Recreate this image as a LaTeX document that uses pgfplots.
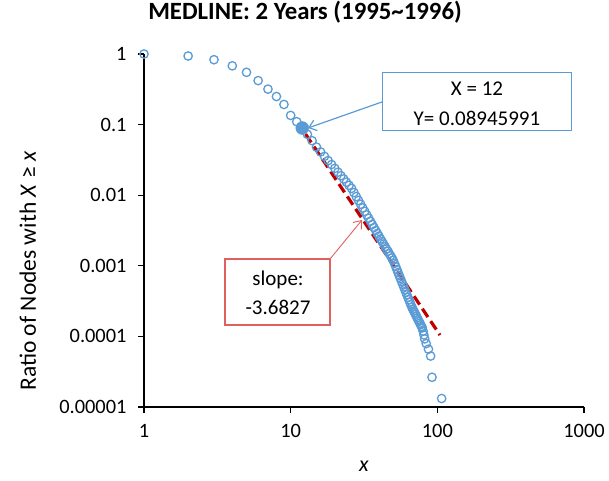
\documentclass[border=0pt]{standalone}
\usepackage{pgfplots}
\pgfplotsset{compat=1.18}
\usepackage{fontspec}
\setmainfont{Carlito}
\usetikzlibrary{arrows.meta}
\definecolor{ptblue}{HTML}{5B9BD5}
\definecolor{trendred}{HTML}{C00000}
\definecolor{boxred}{HTML}{E06060}

\begin{document}
\begin{tikzpicture}[x=1pt,y=1pt]
\path[use as bounding box] (0,0) rectangle (609,480);
\begin{axis}[
    at={(144pt,73pt)}, anchor=south west,
    width=440pt, height=353pt, scale only axis,
    xmode=log, ymode=log,
    xmin=1, xmax=1000, ymin=1e-5, ymax=1,
    axis x line*=bottom, axis y line*=left,
    axis line style={black, line width=1.3pt},
    tick align=outside,
    major tick length=6pt,
    tick style={black, line width=1.2pt},
    xminorticks=false, yminorticks=false,
    xtick={1,10,100,1000}, xticklabels={1,10,100,1000},
    ytick={1,0.1,0.01,0.001,0.0001,0.00001},
    yticklabels={1,0.1,0.01,0.001,0.0001,0.00001},
    ticklabel style={font=\fontsize{20.4}{24}\selectfont},
    yticklabel style={xshift=-8pt},
    xticklabel style={yshift=-8pt},
    xlabel={\textit{x}},
    xlabel style={at={(axis description cs:0.5,-0.167)}, anchor=center, font=\fontsize{22}{24}\selectfont},
    ylabel={Ratio of Nodes with \textit{X} ≥ \textit{x}},
    ylabel style={at={(axis description cs:-0.264,0.385)}, anchor=center, font=\fontsize{23.5}{26}\selectfont},
    title={MEDLINE: 2 Years (1995\textasciitilde 1996)},
    title style={at={(axis description cs:0.366,1.102)}, anchor=center, font=\fontsize{24.8}{28}\selectfont\bfseries},
    clip=false,
]
% complementary cumulative ratio
\addplot[only marks, mark=o, mark size=4.2pt, mark options={ptblue, line width=1.3pt}] coordinates {
(1,1) (2,0.937) (3,0.83) (4,0.68) (5,0.55) (6,0.42) (7,0.318) (8,0.25) (9,0.193) (10,0.135)
(11,0.11) (12,0.0895) (13,0.0729) (14,0.0592) (15,0.0480) (16,0.0410) (17,0.0355) (18,0.0309)
(19,0.0272) (20,0.0240) (21,0.0212) (22,0.0189) (23,0.0170) (24,0.0153) (25,0.0138) (26,0.0125)
(27,0.0109) (28,0.00955) (29,0.00841) (30,0.00745) (31,0.00661) (32,0.00590) (33,0.00527)
(34,0.00473) (35,0.00427) (36,0.00385) (37,0.00348) (38,0.00316) (39,0.00288) (40,0.00263)
(41,0.00240) (42,0.00221) (43,0.00203) (44,0.00187) (45,0.00173) (46,0.00161) (47,0.00149)
(48,0.00139) (49,0.00129) (50,0.00120) (51,0.00108) (52,0.000977) (53,0.000885) (54,0.000802)
(55,0.000728) (56,0.000662) (57,0.000603) (58,0.000550) (59,0.000502) (60,0.000460) (61,0.000423)
(62,0.000388) (63,0.000357) (64,0.000330) (65,0.000304) (66,0.000281) (67,0.000260) (68,0.000244)
(69,0.000230) (70,0.000217) (71,0.000205) (72,0.000193) (73,0.000182) (74,0.000172) (75,0.000163)
(76,0.000154) (77,0.000146) (78,0.000138) (79,0.000132) (80,0.000119) (81,0.000105) (82,0.0000922)
(84,0.0000791) (87,0.0000659) (90,0.0000527) (92,0.0000264) (107,0.0000132)
};
% highlighted point
\addplot[only marks, mark=*, mark size=6.5pt, ptblue] coordinates {(12,0.08945991)};
% power-law trend line
\addplot[trendred, line width=3.2pt, dash pattern=on 10pt off 5pt] coordinates {(12.65,0.0733) (104.2,0.0001046)};
\end{axis}

% callout for the highlighted point
\draw[ptblue, line width=1.2pt, -{Straight Barb[length=7pt,width=11pt]}] (382.7,378.3) -- (308,352);
\draw[ptblue, line width=1.2pt, fill=white] (382.7,349.3) rectangle (571.7,407.3);
\node[font=\fontsize{21}{24}\selectfont] at (477,391) {X = 12};
\node[font=\fontsize{21}{24}\selectfont] at (477,362) {Y= 0.08945991};

% callout for the slope
\draw[boxred, line width=0.9pt, -{Straight Barb[length=7pt,width=11pt]}] (330,221) -- (362,260);
\draw[boxred, line width=1.1pt, fill=white] (225,155) rectangle (330,221);
\node[font=\fontsize{21}{24}\selectfont] at (278,200) {slope:};
\node[font=\fontsize{21}{24}\selectfont] at (278,173) {-3.6827};
\end{tikzpicture}
\end{document}
